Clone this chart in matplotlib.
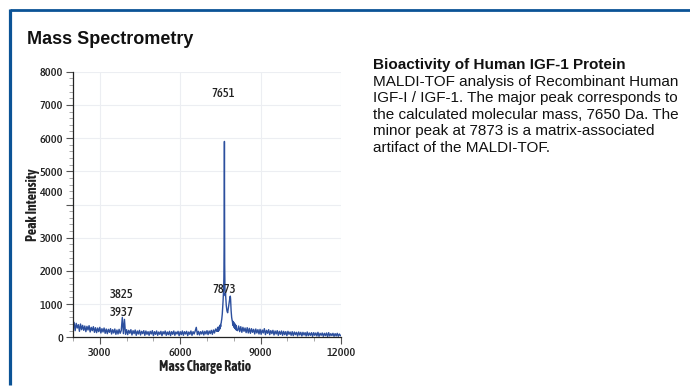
import numpy as np
import matplotlib
matplotlib.use("Agg")
import matplotlib.pyplot as plt
from matplotlib.ticker import MultipleLocator, FixedLocator
from matplotlib.transforms import ScaledTranslation

# ---------------- data ----------------
mz_a = np.arange(2000, 7401, 40)
int_a = [250, 450, 200, 420, 280, 380, 180, 400, 230, 360, 210,
         340, 170, 330, 220, 350, 160, 300, 200, 320, 150,
         290, 140, 280, 170, 300, 130, 260, 160, 280, 120,
         250, 110, 240, 150, 260, 100, 230, 130, 250, 90,
         220, 100, 240, 120, 200, 600, 110, 540, 90, 230,
         80, 210, 120, 230, 70, 200, 110, 220, 60, 190,
         100, 210, 70, 180, 110, 200, 60, 190, 90, 170,
         60, 180, 100, 200, 50, 170, 90, 190, 60, 160,
         90, 180, 50, 170, 100, 190, 60, 160, 80, 180,
         50, 170, 90, 190, 60, 160, 100, 180, 50, 170,
         80, 190, 60, 170, 100, 180, 50, 160, 90, 190,
         60, 170, 100, 190, 300, 80, 180, 70, 170, 100,
         190, 70, 180, 100, 200, 80, 190, 110, 210, 90,
         220, 130, 250, 180, 300]

mz_b = np.arange(7410, 8101, 10)
int_b = [180, 280, 190, 300, 220, 320, 240, 350, 270, 380,
         320, 420, 430, 500, 540, 620, 700, 820, 960, 1100,
         1250, 1450, 1800, 2800, 5900, 2200, 1500, 1250, 1330,
         1200, 1050, 950, 880, 820, 780, 760, 740, 790, 830,
         880, 940, 1000, 1060, 1120, 1180, 1220, 1240, 1150, 950,
         800, 680, 600, 540, 500, 470, 380, 480, 350, 460,
         320, 430, 290, 410, 270, 390, 250, 370, 230, 350, 220]

mz_c = np.arange(8140, 11981, 40)
int_c = [200, 340, 170, 320, 150, 300, 180, 280, 140, 290,
         130, 270, 120, 260, 150, 240, 100, 250, 130, 230,
         100, 240, 90, 220, 130, 260, 80, 210, 120, 230,
         80, 200, 110, 210, 70, 190, 100, 200, 60, 180,
         90, 190, 60, 180, 80, 170, 50, 180, 90, 160,
         60, 170, 50, 160, 80, 150, 40, 160, 70, 150,
         40, 150, 70, 140, 40, 160, 50, 130, 60, 140,
         30, 140, 60, 130, 40, 150, 30, 120, 60, 130,
         30, 120, 50, 130, 20, 140, 40, 110, 50, 120,
         30, 110, 40, 120, 30, 100, 50]

peak_labels = ["7651", "7873", "3825", "3937"]
peak_label_x = [7600, 7640, 3830, 3830]
peak_label_y = [7330, 1450, 1300, 740]

x_major = [3000, 6000, 9000, 12000]
y_major = [0, 1000, 2000, 3000, 4000, 5000, 6000, 7000, 8000]

title = "Mass Spectrometry"
side_title = "Bioactivity of Human IGF-1 Protein"
side_lines = ["MALDI-TOF analysis of Recombinant Human",
              "IGF-I / IGF-1. The major peak corresponds to",
              "the calculated molecular mass, 7650 Da. The",
              "minor peak at 7873 is a matrix-associated",
              "artifact of the MALDI-TOF."]

assert len(mz_a) == len(int_a) and len(mz_b) == len(int_b) and len(mz_c) == len(int_c)
mz = np.concatenate([mz_a, mz_b, mz_c])
inten = np.concatenate([int_a, int_b, int_c])

# ---------------- figure ----------------
W, H = 690, 387
fig = plt.figure(figsize=(W / 100, H / 100), dpi=100)
fig.patch.set_facecolor("white")

narrow = ["Asap Condensed", "Cabin Condensed", "DejaVu Sans"]
arial = ["Liberation Sans", "DejaVu Sans"]

# blue frame (top and left only)
border = "#0b5396"
fig.add_artist(plt.Line2D([9.5 / W, 1.0], [1 - 10 / H, 1 - 10 / H], transform=fig.transFigure,
                          color=border, lw=2.0, solid_capstyle="butt"))
fig.add_artist(plt.Line2D([9.5 / W, 9.5 / W], [1 - 9 / H, 1 - 385 / H], transform=fig.transFigure,
                          color=border, lw=2.3, solid_capstyle="butt"))

ax = fig.add_axes([73 / W, 1 - 337.3 / H, (341 - 73) / W, (337.3 - 71.7) / H])
ax.plot(mz, inten, color="#2c4f9e", lw=1.0)
ax.set_xlim(2000, 12000)
ax.set_ylim(0, 8000)

for s in ["top", "right"]:
    ax.spines[s].set_visible(False)
for s in ["left", "bottom"]:
    ax.spines[s].set_color("#222222")
    ax.spines[s].set_linewidth(0.9)

ax.xaxis.set_major_locator(FixedLocator(x_major))
ax.xaxis.set_minor_locator(MultipleLocator(1000))
ax.yaxis.set_major_locator(FixedLocator(y_major))
ax.yaxis.set_minor_locator(MultipleLocator(200))

ax.tick_params(axis="both", which="major", length=5, width=0.8, color="#555555",
               labelsize=8.8, pad=2, labelcolor="#222222")
ax.tick_params(axis="both", which="minor", length=3, width=0.6, color="#999999")

for lab in ax.get_xticklabels() + ax.get_yticklabels():
    lab.set_family(narrow)
    lab.set_fontweight(500)

ax.grid(True, which="major", color="#eceef2", lw=0.8)
ax.set_axisbelow(True)

# shift the 4000 tick label upward as in the reference
for t in ax.yaxis.get_major_ticks():
    if t.get_loc() == 4000:
        t.label1.set_transform(t.label1.get_transform() +
                               ScaledTranslation(0, 12.5 / 100, fig.dpi_scale_trans))

ax.set_xlabel("Mass Charge Ratio", family=narrow, fontsize=10, fontweight="bold",
              color="#222222")
ax.set_ylabel("Peak Intensity", family=narrow, fontsize=10, fontweight="bold",
              color="#222222")
ax.xaxis.set_label_coords((205 - 73) / 268, (337.3 - 360) / 265.6)
ax.yaxis.set_label_coords((40.5 - 73) / 268, (337.3 - 205) / 265.6)

for lab, xx, yy in zip(peak_labels, peak_label_x, peak_label_y):
    ax.text(xx, yy, lab, ha="center", va="center", fontsize=9, family=narrow,
            fontweight=500, color="#222222")

fig.text(27 / W, 1 - 39 / H, title, ha="left", va="center", fontsize=13,
         fontweight="bold", family=arial, color="#111111")

fig.text(373 / W, 1 - 65 / H, side_title, ha="left", va="center", fontsize=11,
         fontweight="bold", family=arial, color="#111111")
for i, line in enumerate(side_lines):
    fig.text(373 / W, 1 - (81.7 + 16.5 * i) / H, line, ha="left", va="center",
             fontsize=11, family=arial, color="#111111")

fig.savefig("out.png", dpi=100, facecolor="white")
